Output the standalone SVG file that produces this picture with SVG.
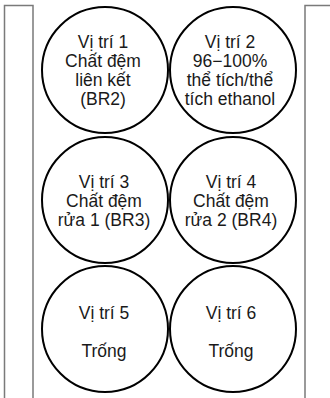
<svg xmlns="http://www.w3.org/2000/svg" width="330" height="398" viewBox="0 0 330 398">
  <style>
    .frame { fill: none; stroke: #7a7a7a; stroke-width: 1.5; }
    .well { fill: #ffffff; stroke: #000000; stroke-width: 2; }
    .lbl { font-family: "Liberation Sans", Arial, sans-serif; font-size: 17.5px; fill: #1a1a1a; text-anchor: middle; }
  </style>
  <rect width="330" height="398" fill="#ffffff"/>

  <!-- side rails of the cartridge -->
  <g id="frame">
    <path class="frame" d="M4.5,398 V5.5 H33 V398"/>
    <path class="frame" d="M305,398 V5.5 H330"/>
  </g>

  <g id="well1">
    <circle class="well" cx="105" cy="70" r="63"/>
    <text class="lbl" x="103" y="48">Vị trí 1</text>
    <text class="lbl" x="103" y="67">Chất đệm</text>
    <text class="lbl" x="103" y="86">liên kết</text>
    <text class="lbl" x="103" y="105">(BR2)</text>
  </g>

  <g id="well2">
    <circle class="well" cx="233" cy="70" r="63"/>
    <text class="lbl" x="230" y="48">Vị trí 2</text>
    <text class="lbl" x="230" y="67">96−100%</text>
    <text class="lbl" x="230" y="86">thể tích/thể</text>
    <text class="lbl" x="230" y="105">tích ethanol</text>
  </g>

  <g id="well3">
    <circle class="well" cx="105" cy="200" r="63"/>
    <text class="lbl" x="104" y="188">Vị trí 3</text>
    <text class="lbl" x="104" y="207">Chất đệm</text>
    <text class="lbl" x="104" y="226">rửa 1 (BR3)</text>
  </g>

  <g id="well4">
    <circle class="well" cx="233" cy="200" r="63"/>
    <text class="lbl" x="231" y="188">Vị trí 4</text>
    <text class="lbl" x="231" y="207">Chất đệm</text>
    <text class="lbl" x="231" y="226">rửa 2 (BR4)</text>
  </g>

  <g id="well5">
    <circle class="well" cx="105" cy="329" r="63"/>
    <text class="lbl" x="104" y="319">Vị trí 5</text>
    <text class="lbl" x="104" y="357">Trống</text>
  </g>

  <g id="well6">
    <circle class="well" cx="233" cy="329" r="63"/>
    <text class="lbl" x="231" y="319">Vị trí 6</text>
    <text class="lbl" x="231" y="357">Trống</text>
  </g>

  <g id="connectors"/>
</svg>
